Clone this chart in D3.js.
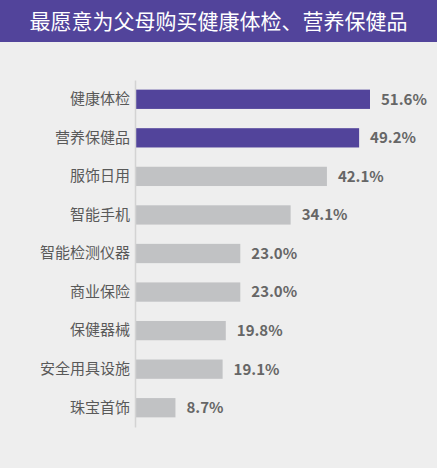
<!DOCTYPE html>
<html>
<head>
<meta charset="utf-8">
<script src="https://cdn.jsdelivr.net/npm/d3@7"></script>
<style>
  body { margin: 0; background: #eeeeee; }
  svg { display: block; font-family: "Noto Sans CJK SC", "Noto Sans", sans-serif; }
</style>
</head>
<body>
<svg id="chart"></svg>
<script>
var title = "最愿意为父母购买健康体检、营养保健品";
var categories = ["健康体检", "营养保健品", "服饰日用", "智能手机", "智能检测仪器", "商业保险", "保健器械", "安全用具设施", "珠宝首饰"];
var values = [51.6, 49.2, 42.1, 34.1, 23.0, 23.0, 19.8, 19.1, 8.7];
var highlighted = ["健康体检", "营养保健品"];

var dimensions = {
    width: 437,
    height: 468,
    header: 42,
    margin: { top: 80, bottom: 41, left: 136, right: 67 }
};

var svg = d3.select("#chart")
    .attr("width", dimensions.width)
    .attr("height", dimensions.height);

svg.append("rect")
    .attr("width", dimensions.width)
    .attr("height", dimensions.height)
    .attr("fill", "#eeeeee");

// header band
svg.append("rect")
    .attr("width", dimensions.width)
    .attr("height", dimensions.header)
    .attr("fill", "#52449b");

svg.append("text")
    .attr("x", dimensions.width / 2)
    .attr("y", 29)
    .attr("text-anchor", "middle")
    .attr("fill", "#ffffff")
    .attr("font-size", 21)
    .text(title);

var data = categories.map((c, i) => ({ name: c, value: values[i] }));

var yScale = d3.scaleBand()
    .domain(categories)
    .range([dimensions.margin.top, dimensions.height - dimensions.margin.bottom])
    .paddingInner(0.5)
    .paddingOuter(0.25);

var xScale = d3.scaleLinear()
    .domain([0, 51.6])
    .range([dimensions.margin.left, 370]);

// bars
svg.selectAll(".bar")
    .data(data)
    .enter()
    .append("rect")
    .attr("class", "bar")
    .attr("x", xScale(0))
    .attr("y", d => yScale(d.name))
    .attr("width", d => xScale(d.value) - xScale(0))
    .attr("height", yScale.bandwidth())
    .attr("fill", d => highlighted.includes(d.name) ? "#52449b" : "#c1c2c4");

// y axis: line only, labels drawn by axis
var yAxis = d3.axisLeft(yScale).tickSize(0).tickPadding(5);
var axisG = svg.append("g")
    .attr("transform", `translate(${dimensions.margin.left - 1}, 0)`)
    .call(yAxis);
axisG.select(".domain").attr("stroke", "#d3d3d3").attr("stroke-width", 1.5);
axisG.selectAll("text")
    .attr("fill", "#595959")
    .attr("font-size", 15)
    .style("font-family", "'Noto Sans CJK SC', sans-serif");

// value labels
svg.selectAll(".value")
    .data(data)
    .enter()
    .append("text")
    .attr("class", "value")
    .attr("x", d => xScale(d.value) + 11)
    .attr("y", d => yScale(d.name) + yScale.bandwidth() / 2)
    .attr("dy", "0.36em")
    .attr("fill", "#666666")
    .attr("font-size", 15)
    .attr("font-weight", "bold")
    .text(d => d.value.toFixed(1) + "%");
</script>
</body>
</html>
